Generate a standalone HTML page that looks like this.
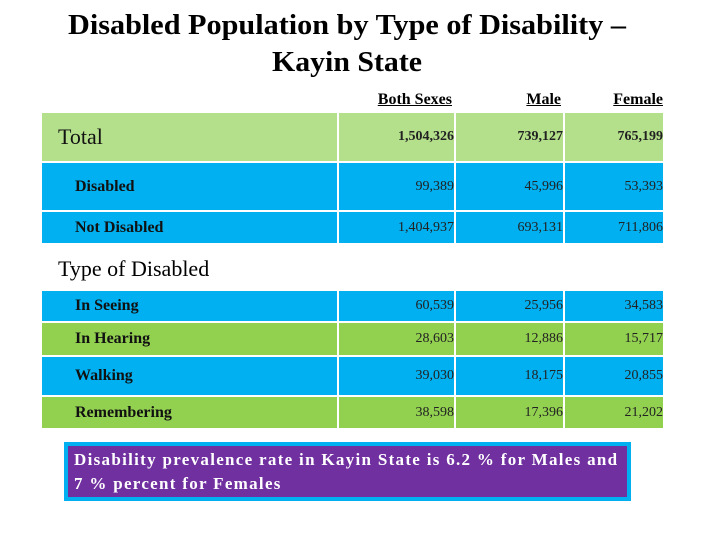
<!DOCTYPE html>
<html><head><meta charset="utf-8"><style>
body{margin:0;width:720px;height:540px;background:#fff;position:relative;overflow:hidden;font-family:"Liberation Serif",serif;}
.a{position:absolute;}
.cell{position:absolute;box-sizing:border-box;}
.g1{background:#b5e08b}.bl{background:#00b0f0}.g2{background:#92d050}
.lab{font-weight:bold;font-size:16px;color:#111;}
.num{font-size:14px;color:#222;text-align:right;}
.hd{font-weight:bold;font-size:16px;text-decoration:underline;text-align:right;}
</style></head><body>
<svg class="a" style="left:0;top:0" width="720" height="90">
<text x="347" y="34" text-anchor="middle" font-family="Liberation Serif" font-weight="bold" font-size="28" textLength="558" lengthAdjust="spacingAndGlyphs">Disabled Population by Type of Disability –</text>
<text x="347" y="71" text-anchor="middle" font-family="Liberation Serif" font-weight="bold" font-size="28" textLength="150" lengthAdjust="spacingAndGlyphs">Kayin State</text>
</svg>
<div class="a hd" style="left:340px;top:91px;width:112px">Both Sexes</div>
<div class="a hd" style="left:456px;top:91px;width:105px">Male</div>
<div class="a hd" style="left:565px;top:91px;width:98px">Female</div>
<div id="tbl"></div>
<div class="a" style="left:58px;top:256px;font-size:22px">Type of Disabled</div>
<div class="a" style="left:64px;top:442px;width:567px;height:59px;background:#00b0f0">
<div class="a" style="left:4px;top:4px;width:559px;height:51px;background:#7030a0;color:#fff;font-weight:bold;font-size:17px;line-height:24px;padding:2px 6px;box-sizing:border-box;white-space:nowrap;letter-spacing:1.3px">Disability prevalence rate in Kayin State is 6.2 % for Males and<br>7 % percent for Females</div>
</div>
<script>
const labels=["Total","Disabled","Not Disabled","In Seeing","In Hearing","Walking","Remembering"];
const bothSexes=["1,504,326","99,389","1,404,937","60,539","28,603","39,030","38,598"];
const male=["739,127","45,996","693,131","25,956","12,886","18,175","17,396"];
const female=["765,199","53,393","711,806","34,583","15,717","20,855","21,202"];
const rowTop=[113,163,212,291,323,357,397];
const rowBot=[161,210,243,321,355,395,428];
const rowCls=["g1","bl","bl","bl","g2","bl","g2"];
const colL=[42,339,456,565],colR=[337,454,563,663];
const t=document.getElementById('tbl');
for(let i=0;i<labels.length;i++){
 const vals=[labels[i],bothSexes[i],male[i],female[i]];
 for(let c=0;c<4;c++){
  const d=document.createElement('div');
  d.className='cell '+rowCls[i]+(c==0?' lab':' num');
  
  
  const h=rowBot[i]-rowTop[i];
  d.style.left=colL[c]+'px';d.style.top=rowTop[i]+'px';
  d.style.width=(colR[c]-colL[c])+'px';d.style.height=h+'px';
  d.style.lineHeight=h+'px';
  if(c==0){d.style.paddingLeft=(i==0?16:33)+'px';if(i==0){d.style.fontSize='22px';d.style.fontWeight='normal';}}
  else{d.style.paddingRight='0px';if(i==0)d.style.fontWeight='bold';}
  d.textContent=vals[c];
  t.appendChild(d);
 }
}
</script>
</body></html>
